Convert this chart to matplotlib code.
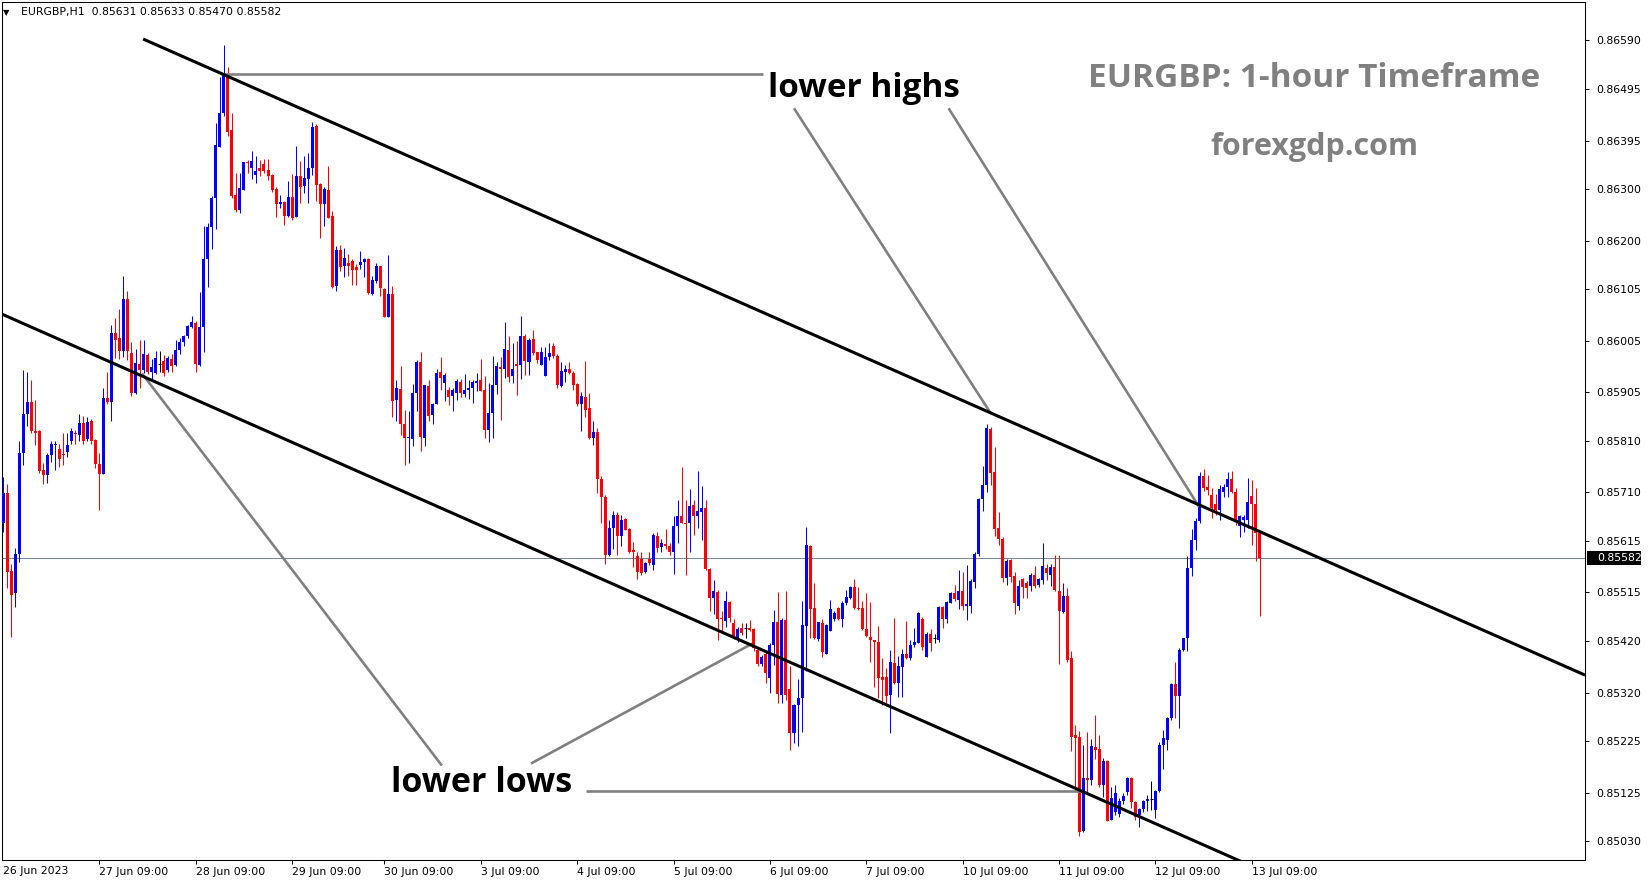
import matplotlib
matplotlib.use("Agg")
import matplotlib.pyplot as plt
import matplotlib.transforms as mtransforms
from matplotlib.patches import Rectangle
import numpy as np

# EURGBP H1 candles, prices in points (1e-5) above BASE
BASE = 0.85
opens = [651, 709, 557, 513, 590, 786, 863, 886, 830, 830, 754, 744, 782, 803, 794, 785, 788, 809, 826, 821,
         844, 813, 848, 811, 765, 746, 894, 886, 1021, 1010, 986, 1087, 982, 903, 960, 948, 977, 944, 942, 959,
         965, 948, 969, 957, 988, 1002, 1015, 1032, 1040, 957, 1032, 1165, 1227, 1283, 1383, 1448, 1519, 1416, 1289, 1260,
         1299, 1354, 1341, 1328, 1341, 1349, 1338, 1328, 1301, 1271, 1276, 1249, 1286, 1247, 1325, 1306, 1320, 1342, 1424, 1311,
         1272, 1299, 1248, 1112, 1182, 1151, 1156, 1160, 1148, 1153, 1158, 1164, 1096, 1122, 1151, 1105, 1052, 1096, 889, 911,
         843, 815, 813, 903, 964, 816, 917, 860, 881, 945, 923, 909, 898, 904, 925, 901, 909, 914, 923, 929,
         909, 831, 864, 919, 954, 951, 988, 937, 959, 958, 1014, 964, 1008, 983, 958, 937, 974, 994, 975, 917,
         945, 950, 943, 921, 881, 896, 875, 815, 827, 736, 700, 587, 640, 666, 625, 658, 638, 598, 585, 581,
         554, 580, 568, 625, 604, 609, 605, 594, 644, 664, 650, 650, 685, 663, 671, 680, 561, 505, 516, 466,
         460, 497, 456, 427, 446, 445, 446, 444, 403, 376, 396, 349, 413, 458, 316, 461, 327, 241, 295, 309,
         450, 606, 484, 424, 455, 396, 440, 464, 484, 463, 495, 504, 526, 484, 484, 444, 429, 422, 419, 351,
         350, 315, 377, 339, 370, 395, 387, 413, 417, 463, 390, 434, 426, 422, 487, 463, 495, 514, 500, 517,
         489, 489, 536, 590, 696, 724, 833, 750, 640, 620, 544, 578, 547, 489, 542, 533, 527, 549, 530, 540,
         563, 549, 565, 517, 476, 508, 388, 237, 234, 50, 154, 150, 213, 210, 140, 187, 72, 88, 83, 108,
         127, 153, 106, 82, 93, 108, 113, 91, 128, 217, 228, 270, 336, 314, 403, 426, 562, 617, 654, 742,
         721, 705, 687, 676, 711, 721, 736, 711, 645, 656, 656, 703, 688, 631]
highs = [740, 726, 571, 601, 809, 948, 944, 929, 889, 832, 767, 786, 809, 809, 805, 826, 825, 836, 832, 863,
         859, 857, 852, 813, 786, 913, 944, 1036, 1050, 1067, 1131, 1102, 1002, 990, 1006, 1006, 982, 970, 985, 985,
         977, 975, 979, 1006, 1011, 1017, 1036, 1054, 1044, 1100, 1229, 1235, 1287, 1429, 1519, 1581, 1539, 1448, 1331, 1331,
         1354, 1357, 1375, 1365, 1358, 1360, 1360, 1330, 1305, 1289, 1277, 1316, 1329, 1384, 1355, 1364, 1370, 1431, 1427, 1313,
         1305, 1345, 1257, 1190, 1192, 1185, 1175, 1164, 1154, 1179, 1166, 1166, 1131, 1156, 1151, 1107, 1172, 1111, 929, 956,
         870, 869, 921, 968, 984, 919, 929, 883, 951, 973, 943, 916, 914, 930, 930, 940, 929, 929, 942, 969,
         936, 922, 975, 964, 973, 1042, 1014, 1001, 1005, 1053, 1018, 1010, 1027, 984, 992, 992, 1000, 1000, 979, 964,
         958, 964, 947, 922, 906, 966, 904, 849, 836, 742, 705, 656, 674, 672, 666, 660, 640, 614, 593, 593,
         575, 594, 630, 633, 620, 639, 611, 663, 695, 759, 695, 716, 695, 751, 722, 695, 562, 539, 520, 478,
         517, 498, 463, 448, 455, 456, 461, 445, 407, 393, 400, 416, 481, 515, 465, 517, 371, 297, 346, 499,
         643, 607, 533, 458, 463, 454, 500, 478, 486, 499, 520, 527, 541, 526, 499, 514, 497, 422, 450, 387,
         368, 402, 465, 391, 404, 460, 422, 445, 477, 467, 437, 443, 434, 489, 489, 499, 516, 530, 559, 554,
         568, 542, 594, 698, 761, 843, 838, 799, 672, 622, 581, 581, 555, 539, 544, 538, 552, 566, 544, 611,
         570, 570, 588, 588, 533, 523, 401, 257, 245, 217, 244, 230, 276, 237, 193, 189, 137, 140, 114, 124,
         156, 156, 108, 95, 111, 121, 148, 130, 224, 247, 273, 338, 379, 406, 427, 585, 638, 659, 750, 755,
         744, 718, 706, 725, 727, 750, 751, 718, 666, 666, 737, 734, 718, 633]
lows = [632, 524, 428, 486, 574, 763, 840, 825, 803, 748, 726, 728, 769, 754, 759, 763, 778, 805, 805, 809,
        805, 809, 805, 757, 676, 746, 882, 849, 971, 970, 974, 967, 898, 902, 913, 942, 940, 929, 940, 944,
        936, 944, 944, 956, 980, 994, 1010, 1029, 944, 956, 983, 1110, 1183, 1223, 1382, 1442, 1404, 1283, 1255, 1253,
        1299, 1332, 1321, 1313, 1326, 1332, 1318, 1294, 1247, 1264, 1231, 1247, 1240, 1247, 1273, 1292, 1273, 1328, 1278, 1205,
        1229, 1244, 1107, 1102, 1140, 1130, 1131, 1114, 1114, 1144, 1130, 1096, 1094, 1118, 1092, 1051, 1052, 857, 848, 822,
        763, 768, 800, 868, 791, 801, 848, 843, 881, 909, 888, 880, 869, 890, 896, 896, 891, 883, 908, 908,
        815, 807, 815, 901, 850, 932, 925, 923, 900, 931, 938, 938, 977, 962, 957, 937, 968, 971, 914, 916,
        925, 940, 910, 878, 830, 857, 813, 802, 709, 650, 570, 585, 599, 588, 606, 636, 592, 565, 541, 549,
        552, 568, 559, 594, 594, 600, 587, 550, 612, 650, 548, 594, 626, 641, 617, 559, 478, 472, 422, 440,
        448, 458, 424, 418, 433, 427, 440, 400, 372, 372, 339, 319, 374, 299, 299, 306, 208, 221, 215, 244,
        361, 426, 424, 420, 389, 395, 440, 460, 462, 448, 491, 502, 482, 481, 442, 429, 380, 330, 309, 296,
        294, 241, 337, 312, 312, 385, 383, 408, 416, 403, 390, 400, 417, 419, 445, 455, 494, 499, 482, 481,
        461, 475, 523, 585, 674, 711, 724, 625, 607, 536, 530, 536, 473, 480, 505, 505, 518, 523, 526, 532,
        539, 527, 517, 375, 474, 379, 206, 130, 40, 49, 127, 139, 191, 137, 117, 70, 72, 82, 78, 103,
        121, 95, 72, 59, 87, 89, 91, 75, 127, 172, 208, 267, 270, 250, 400, 400, 546, 598, 650, 712,
        705, 659, 666, 656, 701, 701, 708, 646, 622, 633, 640, 607, 576, 470]
closes = [709, 555, 510, 590, 786, 863, 886, 829, 826, 751, 744, 782, 804, 805, 775, 782, 802, 829, 823, 844,
          809, 846, 809, 765, 746, 894, 886, 1021, 1006, 986, 1087, 986, 903, 962, 948, 979, 944, 954, 971, 959,
          942, 972, 956, 988, 1003, 1015, 1034, 1042, 959, 1032, 1165, 1227, 1283, 1386, 1448, 1526, 1412, 1287, 1260, 1302,
          1353, 1351, 1355, 1336, 1336, 1336, 1325, 1299, 1271, 1276, 1249, 1286, 1245, 1325, 1304, 1323, 1342, 1422, 1309, 1272,
          1300, 1245, 1109, 1182, 1149, 1166, 1151, 1142, 1142, 1158, 1164, 1098, 1124, 1151, 1107, 1052, 1096, 887, 913, 843,
          815, 817, 903, 963, 818, 918, 859, 882, 943, 933, 938, 895, 909, 927, 903, 909, 914, 925, 927, 908,
          831, 864, 919, 955, 951, 990, 935, 950, 956, 1014, 966, 1007, 981, 968, 983, 973, 982, 975, 919, 946,
          950, 943, 919, 881, 898, 870, 815, 827, 736, 700, 587, 640, 666, 625, 656, 637, 594, 594, 555, 552,
          572, 572, 627, 602, 611, 606, 594, 644, 663, 651, 649, 683, 663, 674, 680, 561, 505, 517, 463, 463,
          498, 465, 427, 444, 435, 445, 441, 407, 376, 390, 358, 413, 458, 317, 461, 316, 241, 295, 309, 452,
          607, 483, 426, 457, 398, 452, 482, 474, 464, 495, 507, 526, 484, 482, 443, 430, 422, 419, 348, 344,
          313, 379, 338, 372, 395, 387, 413, 418, 474, 409, 434, 417, 426, 487, 463, 497, 514, 503, 518, 489,
          493, 537, 590, 696, 724, 835, 747, 638, 620, 544, 576, 545, 495, 527, 526, 523, 549, 527, 542, 566,
          552, 564, 520, 478, 508, 383, 234, 232, 49, 154, 150, 216, 208, 140, 187, 70, 114, 124, 108, 119,
          153, 106, 78, 93, 109, 113, 113, 128, 218, 232, 270, 336, 314, 403, 426, 562, 617, 654, 742, 718,
          714, 679, 676, 716, 721, 736, 711, 656, 663, 661, 692, 688, 631, 582]

# x axis: bar index of each 09:00 mark
tick_bars = [24, 48, 72, 95, 119, 143, 167, 191, 215, 239, 263, 287, 311]
tick_labels = ["27 Jun 09:00", "28 Jun 09:00", "29 Jun 09:00", "30 Jun 09:00", "3 Jul 09:00",
               "4 Jul 09:00", "5 Jul 09:00", "6 Jul 09:00", "7 Jul 09:00", "10 Jul 09:00",
               "11 Jul 09:00", "12 Jul 09:00", "13 Jul 09:00"]
price_ticks = [0.86590, 0.86495, 0.86395, 0.86300, 0.86200, 0.86105, 0.86005, 0.85905,
               0.85810, 0.85710, 0.85615, 0.85515, 0.85420, 0.85320, 0.85225, 0.85125, 0.85030]
last_price = 0.85582

# trend channel (bar, price)
upper_bars, upper_prices = [34.9, 394.0], [0.865927, 0.853540]
lower_bars, lower_prices = [-1.0, 310.0], [0.860595, 0.849853]

# grey pointer lines (bar, price)
pointer_lines = [
    ([54.3, 189.2], [0.865250, 0.865250]),
    ([197.0, 246.0], [0.864578, 0.858638]),
    ([235.5, 297.9], [0.864578, 0.856815]),
    ([34.6, 109.3], [0.859415, 0.851778]),
    ([131.5, 186.6], [0.851818, 0.854153]),
    ([145.2, 269.0], [0.851285, 0.851285]),
]

BLUE, RED = "#0000FF", "#FF0000"
W, H = 1649, 884

fig = plt.figure(figsize=(W / 100, H / 100), dpi=100)
ax = fig.add_axes([2 / W, 1 - 860 / H, 1583 / W, 858 / H])

o = BASE + np.array(opens) / 1e5
h = BASE + np.array(highs) / 1e5
l = BASE + np.array(lows) / 1e5
c = BASE + np.array(closes) / 1e5
x = np.arange(len(o))
cols = np.where(c > o, BLUE, np.where(c < o, RED, "black"))

ax.vlines(x, l, h, colors=cols, lw=0.75, zorder=3)
ax.bar(x, np.abs(c - o), bottom=np.minimum(o, c), width=0.75,
       color=cols, linewidth=0, zorder=3)
flat = c == o
ax.hlines(c[flat], x[flat] - 0.4, x[flat] + 0.4, colors="black", lw=0.75, zorder=3)

ax.axhline(last_price, color="#778899", lw=0.75, zorder=1)

ax.plot(upper_bars, upper_prices, color="black", lw=2.2, zorder=5, solid_capstyle="butt")
ax.plot(lower_bars, lower_prices, color="black", lw=2.2, zorder=5, solid_capstyle="butt")
for bx, py in pointer_lines:
    ax.plot(bx, py, color="#808080", lw=1.9, zorder=4, solid_capstyle="butt")

ax.set_xlim(-0.25, 394.0)
ax.set_ylim(0.849939, 0.866648)

ax.set_xticks(tick_bars)
ax.set_xticklabels(tick_labels, fontsize=7.8, ha="left")
ax.yaxis.tick_right()
ax.set_yticks(price_ticks)
ax.set_yticklabels([f"{p:.5f}" for p in price_ticks], fontsize=7.8)
ax.tick_params(axis="x", direction="out", length=3, width=0.75, pad=2)
ax.tick_params(axis="y", direction="out", length=3, width=0.75, pad=5)
for s in ax.spines.values():
    s.set_linewidth(0.75)
    s.set_color("black")

ax.text(0, -0.0075, "26 Jun 2023", transform=mtransforms.blended_transform_factory(ax.transData, ax.transAxes),
        fontsize=7.8, ha="left", va="top")

# last price tag on the price scale
blend = mtransforms.blended_transform_factory(ax.transAxes, ax.transData)
ax.add_patch(Rectangle((1.0013, last_price - 0.000128), 54 / 1583, 0.000256,
                       transform=blend, facecolor="black", edgecolor="none", clip_on=False, zorder=6))
ax.text(1.0076, last_price, f"{last_price:.5f}", transform=blend, color="white",
        fontsize=7.8, ha="left", va="center", zorder=7, clip_on=False)

# header
fig.text(3 / W, 1 - 12.5 / H, "\u25bc", fontsize=6, va="center", ha="left")
fig.text(21.5 / W, 1 - 12.5 / H, "EURGBP,H1  0.85631 0.85633 0.85470 0.85582",
         fontsize=7.8, va="center", ha="left")

# annotations
ann = dict(fontweight="bold", family="Open Sans", va="baseline")
fig.text(768 / W, 1 - 96.7 / H, "lower highs", fontsize=24, color="black", ha="left", **ann)
fig.text(391 / W, 1 - 791.7 / H, "lower lows", fontsize=24.5, color="black", ha="left", **ann)
fig.text(1314 / W, 1 - 86.7 / H, "EURGBP: 1-hour Timeframe", fontsize=24, color="#808080",
         ha="center", **ann)
fig.text(1314 / W, 1 - 155 / H, "forexgdp.com", fontsize=22, color="#808080", ha="center", **ann)

fig.savefig("out.png", dpi=100)
